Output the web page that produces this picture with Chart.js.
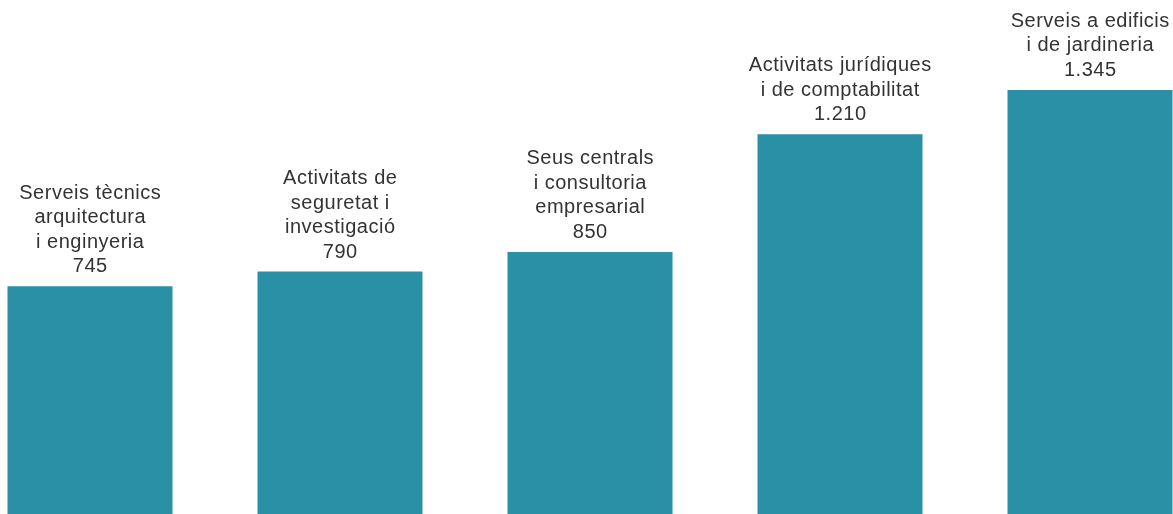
<!DOCTYPE html>
<html>
<head>
<meta charset="utf-8">
<script src="https://cdn.jsdelivr.net/npm/chart.js@4/dist/chart.umd.min.js"></script>
<style>
  html, body { margin: 0; padding: 0; background: #fff; overflow: hidden; width: 1173px; height: 514px; }
  #wrap { position: absolute; left: -35px; top: 0; width: 1250px; height: 540px; }
</style>
</head>
<body>
<div id="wrap"><canvas id="c" width="1250" height="540"></canvas></div>
<script>
const categories = [
  ["Serveis tècnics", "arquitectura", "i enginyeria"],
  ["Activitats de", "seguretat i", "investigació"],
  ["Seus centrals", "i consultoria", "empresarial"],
  ["Activitats jurídiques", "i de comptabilitat"],
  ["Serveis a edificis", "i de jardineria"]
];
const values = [745, 790, 850, 1210, 1345];
const barColor = "#2A90A6";

function fmt(v) {
  return String(v).replace(/\B(?=(\d{3})+(?!\d))/g, ".");
}

const labelPlugin = {
  id: "barLabels",
  afterDatasetsDraw(chart) {
    const ctx = chart.ctx;
    const meta = chart.getDatasetMeta(0);
    ctx.save();
    ctx.font = "20px 'Liberation Sans', Arial, Helvetica, sans-serif";
    if ("letterSpacing" in ctx) ctx.letterSpacing = "0.5px";
    ctx.fillStyle = "#333333";
    ctx.textAlign = "center";
    ctx.textBaseline = "alphabetic";
    const lh = 24.5;
    meta.data.forEach((bar, i) => {
      const lines = categories[i].concat([fmt(values[i])]);
      let y = bar.y - 14;
      for (let k = lines.length - 1; k >= 0; k--) {
        ctx.fillText(lines[k], bar.x + 0.25, y);
        y -= lh;
      }
    });
    ctx.restore();
  }
};

new Chart(document.getElementById("c"), {
  type: "bar",
  data: {
    labels: categories.map(c => c.join(" ")),
    datasets: [{
      data: values,
      backgroundColor: barColor,
      borderWidth: 0,
      barPercentage: 0.66,
      categoryPercentage: 1.0
    }]
  },
  options: {
    responsive: false,
    animation: false,
    layout: { padding: { left: 0, right: 0, top: 0, bottom: 10 } },
    plugins: { legend: { display: false }, tooltip: { enabled: false }, title: { display: false } },
    scales: {
      x: { display: false, offset: true, grid: { display: false } },
      y: { display: false, min: 0, max: 1620, grid: { display: false } }
    }
  },
  plugins: [labelPlugin]
});
</script>
</body>
</html>
